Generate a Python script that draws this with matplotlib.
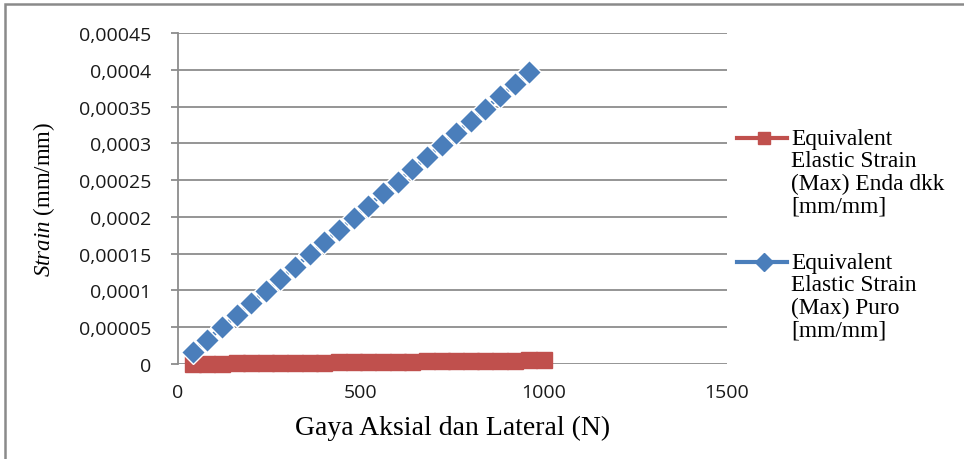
import matplotlib.pyplot as plt
from matplotlib.lines import Line2D
from matplotlib.patches import Rectangle
from matplotlib.ticker import FuncFormatter, MultipleLocator

plt.rcParams["mathtext.fontset"] = "custom"
plt.rcParams["mathtext.it"] = "Liberation Serif:italic"
plt.rcParams["mathtext.rm"] = "Liberation Serif"

# Gaya (N) dan regangan ekuivalen maksimum (mm/mm)
gaya_enda = [40, 80, 120, 160, 200, 240, 280, 320, 360, 400, 440, 480, 520,
             560, 600, 640, 680, 720, 760, 800, 840, 880, 920, 960, 1000]
strain_enda = [0.2e-6, 0.4e-6, 0.6e-6, 0.8e-6, 1.0e-6, 1.2e-6, 1.4e-6, 1.6e-6,
               1.8e-6, 2.0e-6, 2.2e-6, 2.4e-6, 2.6e-6, 2.8e-6, 3.0e-6, 3.2e-6,
               3.4e-6, 3.6e-6, 3.8e-6, 4.0e-6, 4.2e-6, 4.4e-6, 4.6e-6, 4.8e-6,
               5.0e-6]

gaya_puro = [40, 80, 120, 160, 200, 240, 280, 320, 360, 400, 440, 480, 520,
             560, 600, 640, 680, 720, 760, 800, 840, 880, 920, 960]
strain_puro = [1.6e-5, 3.3e-5, 5.0e-5, 6.6e-5, 8.3e-5, 9.9e-5, 1.16e-4, 1.32e-4,
               1.49e-4, 1.66e-4, 1.82e-4, 1.99e-4, 2.15e-4, 2.32e-4, 2.48e-4,
               2.65e-4, 2.81e-4, 2.98e-4, 3.14e-4, 3.31e-4, 3.47e-4, 3.64e-4,
               3.80e-4, 3.97e-4]

label_enda = "Equivalent\nElastic Strain\n(Max) Enda dkk\n[mm/mm]"
label_puro = "Equivalent\nElastic Strain\n(Max) Puro\n[mm/mm]"

RED = "#C0504D"
BLUE = "#4A7EBB"
GRID = "#8C8C8C"

fig = plt.figure(figsize=(9.64, 4.6), dpi=100)
ax = fig.add_axes([178 / 964, 1 - 365 / 460, (727 - 178) / 964, (365 - 34) / 460])

ax.plot(gaya_enda, strain_enda, color=RED, lw=3, marker="s", ms=12,
        mfc=RED, mec=RED, zorder=3, clip_on=False)
ax.plot(gaya_puro, strain_puro, color=BLUE, lw=3, marker="D", ms=12,
        mfc=BLUE, mec="white", mew=1.0, zorder=4, clip_on=False)

ax.set_xlim(0, 1500)
ax.set_ylim(0, 0.00045)
ax.xaxis.set_major_locator(MultipleLocator(500))
ax.yaxis.set_major_locator(MultipleLocator(0.00005))


def koma(v, pos):
    if abs(v) < 1e-12:
        return "0"
    s = f"{v:.5f}".rstrip("0")
    return s.replace(".", ",")


ax.yaxis.set_major_formatter(FuncFormatter(koma))
ax.xaxis.set_major_formatter(FuncFormatter(lambda v, p: f"{v:.0f}"))
ax.grid(axis="y", color=GRID, lw=1.3)
ax.set_axisbelow(True)
for side in ["top", "right", "bottom"]:
    ax.spines[side].set_visible(False)
ax.spines["left"].set_color(GRID)
ax.spines["left"].set_linewidth(1.3)
ax.tick_params(axis="y", length=5, color=GRID, width=1.3, pad=14,
               labelsize=14, labelcolor="#1a1a1a")
ax.tick_params(axis="x", length=0, pad=14, labelsize=14, labelcolor="#1a1a1a")
for t in ax.get_xticklabels() + ax.get_yticklabels():
    t.set_fontfamily(["Open Sans", "DejaVu Sans"])

ax.set_xlabel("Gaya Aksial dan Lateral (N)", family="Liberation Serif",
              fontsize=20, labelpad=10)
ax.set_ylabel(r"$\it{Strain}$ (mm/mm)", family="Liberation Serif",
              fontsize=16.5, labelpad=16)

# legenda di sisi kanan
for y, warna, mk, teks in [(139, RED, "s", label_enda), (263, BLUE, "D", label_puro)]:
    yf = 1 - y / 460
    fig.add_artist(Line2D([737 / 964, 787 / 964], [yf, yf], color=warna, lw=3,
                          transform=fig.transFigure))
    fig.add_artist(Line2D([764 / 964], [yf], color=warna, marker=mk, ms=9,
                          mfc=warna, mec=warna, transform=fig.transFigure))
    fig.text(791 / 964, yf + 10 / 460, teks, family="Liberation Serif",
             fontsize=16.8, va="top", ha="left", linespacing=1.08)

# bingkai luar grafik
fig.add_artist(Rectangle((5 / 964, -0.1), 1.2, 0.1 + 1 - 5 / 460,
                         transform=fig.transFigure, fill=False,
                         edgecolor="#8A8A8A", lw=1.8))

fig.savefig("out.png", dpi=100)
